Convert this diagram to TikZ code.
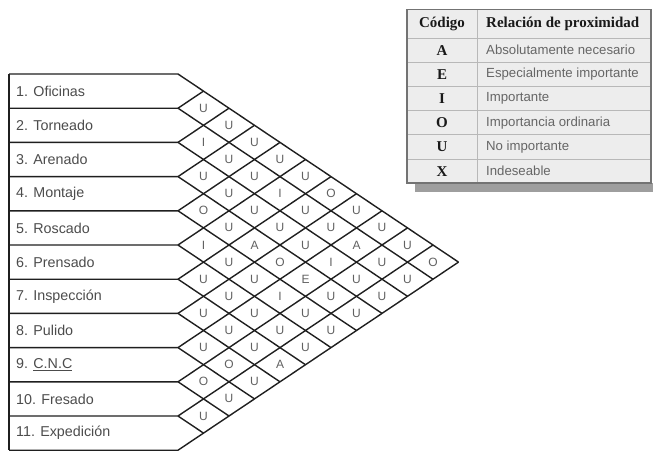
\documentclass[tikz,border=0pt]{standalone}
\usepackage{fontspec}
\setmainfont{Liberation Sans}
\newfontfamily\serifb{Liberation Serif}
\begin{document}
\begin{tikzpicture}[x=1pt,y=-1pt,
  grid/.style={draw=black!88, line width=1.4pt, line join=miter},
  rowlabel/.style={anchor=west, inner sep=0pt, text=black!70, font=\fontsize{14.3}{16}\selectfont},
  rel/.style={inner sep=0pt, text=black!62, font=\fontsize{12}{14}\selectfont},
  tline/.style={draw=black!28, line width=0.8pt},
  thead/.style={inner sep=0pt, font=\serifb\bfseries\fontsize{15}{17}\selectfont, text=black!90},
  tdesc/.style={anchor=west, inner sep=0pt, text=black!60, font=\fontsize{13.2}{15}\selectfont}]
\useasboundingbox (0,0) rectangle (653,452);
\fill[white] (0,0) rectangle (653,452);
% grid coordinates
\foreach \b in {0,...,11} {
  \pgfmathsetmacro\yb{74+34.2*\b}
  \coordinate (L\b) at (9,\yb);
  \coordinate (B\b) at (178,\yb);
  \coordinate (D\b) at ({178+25.5*(11-\b)},{\yb+17.1*(11-\b)});
  \coordinate (U\b) at ({178+25.5*\b},{\yb-17.1*\b});
}
\draw[grid] (L0) -- (L11);
\draw[grid] (L0) -- (B0) -- (D0);
\draw[grid] (L11) -- (B11) -- (U11);
\foreach \b in {1,...,10} {
  \draw[grid] (L\b) -- (B\b) -- (D\b);
  \draw[grid] (B\b) -- (U\b);
}
% row labels
\foreach \k/\t in {1/{1. Oficinas},2/{2. Torneado},3/{3. Arenado},4/{4. Montaje},5/{5. Roscado},6/{6. Prensado},7/{7. Inspección},8/{8. Pulido},9/{9. \underline{C.N.C}},10/{10. Fresado},11/{11. Expedición}}
  \node[rowlabel] (r\k) at (16,{74+34.2*(\k-0.5)}) {\t};
% relations
\foreach \i/\j/\l in {1/2/U,1/3/U,1/4/U,1/5/U,1/6/U,1/7/O,1/8/U,1/9/U,1/10/U,1/11/O,
  2/3/I,2/4/U,2/5/U,2/6/I,2/7/U,2/8/U,2/9/A,2/10/U,2/11/U,
  3/4/U,3/5/U,3/6/U,3/7/U,3/8/U,3/9/I,3/10/U,3/11/U,
  4/5/O,4/6/U,4/7/A,4/8/O,4/9/E,4/10/U,4/11/U,
  5/6/I,5/7/U,5/8/U,5/9/I,5/10/U,5/11/U,
  6/7/U,6/8/U,6/9/U,6/10/U,6/11/U,
  7/8/U,7/9/U,7/10/U,7/11/A,
  8/9/U,8/10/O,8/11/U,
  9/10/O,9/11/U,
  10/11/U}
  \node[rel] (p\i-\j) at ({178+25.5*(\j-\i)},{74+17.1*(\i+\j-1)}) {\l};
% legend table
\fill[black!38] (415,183) rectangle (653,192);
\filldraw[fill=black!7, draw=black!55, line width=1.6pt] (407,9.5) rectangle (651,183);
\foreach \y in {38,62.2,86.4,110.6,134.8,159}
  \draw[tline] (408,\y) -- (650,\y);
\draw[tline] (477,10.5) -- (477,182);
\node[thead] (hc) at (442,23.8) {Código};
\node[thead, anchor=west] (hr) at (486,23.8) {Relación de proximidad};
\foreach \n/\c/\d in {1/A/{Absolutamente necesario},2/E/{Especialmente importante},3/I/{Importante},4/O/{Importancia ordinaria},5/U/{No importante},6/X/{Indeseable}} {
  \node[thead] (c\n) at (442,{38+24.2*(\n-0.5)}) {\c};
  \node[tdesc] (t\n) at (486,{38+24.2*(\n-0.5)}) {\d};
}
\end{tikzpicture}
\end{document}
